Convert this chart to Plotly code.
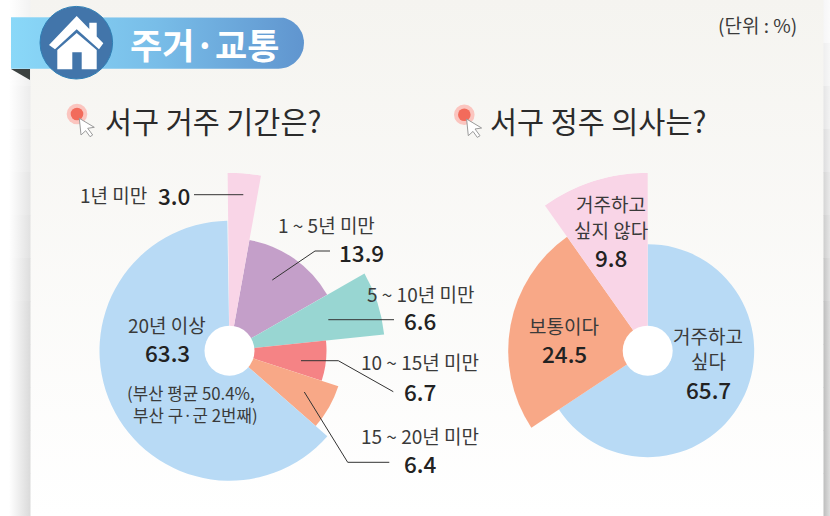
import math
import plotly.graph_objects as go

# ---------- data ----------
stay_labels = ["1년 미만", "1~5년 미만", "5~10년 미만", "10~15년 미만", "15~20년 미만", "20년 이상"]
stay_values = [3.0, 13.9, 6.6, 6.7, 6.4, 63.3]
stay_radius = [178, 112.5, 155.5, 97, 114.5, 130]
stay_colors = ["#f9d5e7", "#c49fc9", "#98d6d2", "#f58385", "#f8a887", "#b8daf5"]

plan_labels = ["거주하고 싶다", "보통이다", "거주하고 싶지 않다"]
plan_values = [65.7, 24.5, 9.8]
plan_radius = [106.5, 139.5, 178]
plan_colors = ["#b8daf5", "#f8a887", "#f9d5e7"]

W, H = 830, 516
LEFT_C = (229.5, 350.7)
RIGHT_C = (647.7, 350.7)
RMAX = 178
RFIT = H - 350.7
HOLE = 25
FONT = "Noto Sans CJK KR"
INK = "#3a3a3a"
DARK = "#222222"

fig = go.Figure()


def mix(a, b, t):
    ca = [int(a[i:i + 2], 16) for i in (1, 3, 5)]
    cb = [int(b[i:i + 2], 16) for i in (1, 3, 5)]
    return "#%02x%02x%02x" % tuple(round(p + (q - p) * t) for p, q in zip(ca, cb))


def poly(xs, ys, **grad):
    fig.add_trace(go.Scatter(x=xs, y=ys, mode="lines", line=dict(width=0), fill="toself",
                             hoverinfo="skip", showlegend=False, xaxis="x", yaxis="y", **grad))


def rect(x0, y0, x1, y1, kind, c0, c1):
    poly([x0, x1, x1, x0, x0], [y0, y0, y1, y1, y0],
         fillgradient=dict(type=kind, colorscale=[[0, c0], [1, c1]]))


# ---------- page background ----------
rect(30, 0, 824, H, "vertical", "#ffffff", "#f5f4f0")
bands = 12
for i in range(bands):
    y0, y1 = H * i / bands, H * (i + 1) / bands
    t = min(1, (i / (bands - 1)) * 1.6)
    rect(9, y0, 30.5, y1 + 0.5, "horizontal", "#ffffff", mix("#f3f3f3", "#dadada", t))
    rect(823.5, y0, 830, y1 + 0.5, "horizontal", mix("#f6f6f7", "#bdbdbd", t), mix("#fbfbfb", "#dedede", t))

# ---------- header ribbon ----------
rad, top, bot, right = 25.7, 17.3, 68.7, 304
cx = right - rad
arc = [-math.pi / 2 + math.pi * k / 30 for k in range(31)]
rx = [11] + [cx + rad * math.cos(a) for a in arc] + [11, 11]
ry = [top] + [(top + bot) / 2 + rad * math.sin(a) for a in arc] + [bot, top]
poly(rx, ry, fillgradient=dict(type="horizontal",
                               colorscale=[[0, "#8ad8f8"], [0.5, "#78bde8"], [1, "#6095cf"]]))

# ---------- pies ----------
# A full circle of radius RMAX would overflow the page bottom, so sectors that fit RFIT are
# drawn in a full-circle subplot and the longest sector in an upper-half subplot of radius RMAX.
def pie(values, radius, colors, labels, sub_main, sub_tall, center, shift=0.0):
    total, cum, theta, width = 100.0, 0.0, [], []
    for v in values:
        sweep = v / total * 360
        theta.append(cum + sweep / 2)
        width.append(sweep)
        cum += sweep
    for sub, keep in ((sub_main, lambda r: r <= RFIT), (sub_tall, lambda r: r > RFIT)):
        idx = [i for i, r in enumerate(radius) if keep(r)]
        fig.add_trace(go.Barpolar(r=[radius[i] for i in idx], theta=[theta[i] for i in idx],
                                  width=[width[i] for i in idx], text=[labels[i] for i in idx],
                                  marker=dict(color=[colors[i] for i in idx], line=dict(width=0)),
                                  hoverinfo="text", showlegend=False, subplot=sub))
    ang = dict(visible=False, direction="clockwise", rotation=90 + shift)
    main = dict(
        domain=dict(x=[(center[0] - RFIT) / W, (center[0] + RFIT) / W], y=[0, 1 - (center[1] - RFIT) / H]),
        bgcolor="rgba(0,0,0,0)", radialaxis=dict(visible=False, range=[0, RFIT]), angularaxis=ang,
    )
    tall = dict(
        domain=dict(x=[(center[0] - RMAX) / W, (center[0] + RMAX) / W],
                    y=[1 - center[1] / H, 1 - (center[1] - RMAX) / H]),
        sector=[0, 180],
        bgcolor="rgba(0,0,0,0)", radialaxis=dict(visible=False, range=[0, RMAX]), angularaxis=ang,
    )
    return main, tall


polar1, polar3 = pie(stay_values, stay_radius, stay_colors, stay_labels, "polar", "polar3", LEFT_C, shift=0.6)
polar2, polar4 = pie(plan_values, plan_radius, plan_colors, plan_labels, "polar2", "polar4", RIGHT_C)

# ---------- decoration shapes ----------
shapes = []


def path(d, fill=None, line=None, lw=1):
    s = dict(type="path", path=d, xref="x", yref="y", layer="above",
             line=dict(color=line or "rgba(0,0,0,0)", width=lw if line else 0))
    if fill:
        s["fillcolor"] = fill
    shapes.append(s)


def circle(c, r, fill, line=None, lw=1):
    shapes.append(dict(type="circle", xref="x", yref="y", layer="above",
                       x0=c[0] - r, x1=c[0] + r, y0=c[1] - r, y1=c[1] + r, fillcolor=fill,
                       line=dict(color=line or "rgba(0,0,0,0)", width=lw if line else 0)))


def poly_path(points, close=True):
    return "M " + " L ".join(f"{x:.1f},{y:.1f}" for x, y in points) + (" Z" if close else "")


circle(LEFT_C, HOLE, "#ffffff")
circle(RIGHT_C, HOLE, "#ffffff")

path(poly_path([(11, 69), (30, 69), (30, 80)]), fill="#3b4140")
circle((76.3, 42.7), 36.3, "#4275aa", line="#2f7fb5", lw=1)
# house
path(poly_path([(49, 45), (76.7, 16), (89.3, 29), (89.3, 22.7), (96.7, 22.7), (96.7, 36.5), (103.3, 43.3),
                (99, 49.3), (76.7, 29.3), (55, 49.3)]), fill="#ffffff")
path(poly_path([(57.3, 69.3), (57.3, 50), (76.7, 33), (96.7, 50), (96.7, 69.3), (81.7, 69.3), (81.7, 52.3),
                (72.3, 52.3), (72.3, 69.3)]), fill="#ffffff")

# bullet + cursor icons
cursor = [(0, 0), (1.7, 16.7), (6.4, 12.4), (10.7, 18.4), (13.4, 16.7), (8.4, 10), (15, 9)]
for c in [(77, 114), (464.3, 114.7)]:
    circle(c, 10.3, "#fbc5bf")
    circle(c, 6.3, "#f26b5b")
    tip = (c[0] + 2.3, c[1] + 4.3)
    path(poly_path([(tip[0] + x, tip[1] + y) for x, y in cursor]), fill="#ffffff", line="#9a9a9a", lw=1)

# leader lines
leaders = [
    [(194, 194.7), (243.3, 194.7)],
    [(330, 251), (315, 251), (272.3, 280)],
    [(328.3, 319.7), (394, 319.7)],
    [(301, 360.7), (338.3, 360.7), (393.3, 391.7)],
    [(304.3, 392), (347.7, 462.3), (389.3, 462.3)],
]
for pts in leaders:
    path(poly_path(pts, close=False), line="#333333", lw=1)

# ---------- texts ----------
annotations = []


def text(x, y, s, size, color=INK, weight=400, anchor="center"):
    annotations.append(dict(x=x, y=y, xref="x", yref="y", text=s, showarrow=False,
                            xanchor=anchor, yanchor="middle", borderpad=0,
                            font=dict(family=FONT, size=size, color=color, weight=weight)))


text(205, 43, "주거·교통", 35, "#ffffff", 700)
text(104, 120, "서구 거주 기간은?", 29.4, "#2b2b2b", anchor="left")
text(489, 120, "서구 정주 의사는?", 29.4, "#2b2b2b", anchor="left")
text(757, 24, "(단위 : %)", 19)

L, N, W_NUM = 19, 22.5, 500
P = 16.8
text(148, 194.5, stay_labels[0], L, anchor="right")
text(157, 195, f"{stay_values[0]:.1f}", N, DARK, W_NUM, anchor="left")
text(326, 224, "1 ~ 5년 미만", L)
text(361, 251.5, f"{stay_values[1]:.1f}", N, DARK, W_NUM)
text(420, 293, "5 ~ 10년 미만", L)
text(420, 320, f"{stay_values[2]:.1f}", N, DARK, W_NUM)
text(420, 361.5, "10 ~ 15년 미만", L)
text(420, 390.5, f"{stay_values[3]:.1f}", N, DARK, W_NUM)
text(420, 435.5, "15 ~ 20년 미만", L)
text(420, 463, f"{stay_values[4]:.1f}", N, DARK, W_NUM)
text(167, 324, stay_labels[5], L)
text(167.3, 351.5, f"{stay_values[5]:.1f}", N, DARK, W_NUM)
text(190.7, 392.5, "(부산 평균 50.4%,", P)
text(195, 415, "부산 구·군 2번째)", P)

text(610.7, 203.3, "거주하고", L)
text(610.7, 229, "싶지 않다", L)
text(610.7, 256.5, f"{plan_values[2]:.1f}", N, DARK, W_NUM)
text(564.3, 325, plan_labels[1], L)
text(564.3, 353, f"{plan_values[1]:.1f}", N, DARK, W_NUM)
text(708, 335, "거주하고", L)
text(708, 360.5, "싶다", L)
text(708, 388.5, f"{plan_values[0]:.1f}", N, DARK, W_NUM)

fig.update_layout(
    width=W, height=H, autosize=False,
    margin=dict(l=0, r=0, t=0, b=0, pad=0),
    paper_bgcolor="#ffffff", plot_bgcolor="rgba(0,0,0,0)",
    xaxis=dict(range=[0, W], visible=False, domain=[0, 1], fixedrange=True),
    yaxis=dict(range=[H, 0], visible=False, domain=[0, 1], fixedrange=True),
    polar=polar1, polar2=polar2, polar3=polar3, polar4=polar4,
    shapes=shapes, annotations=annotations, showlegend=False,
    font=dict(family=FONT),
)

fig.write_html("out.html", config=dict(displayModeBar=False),
               post_script="document.body.style.margin='0';")
